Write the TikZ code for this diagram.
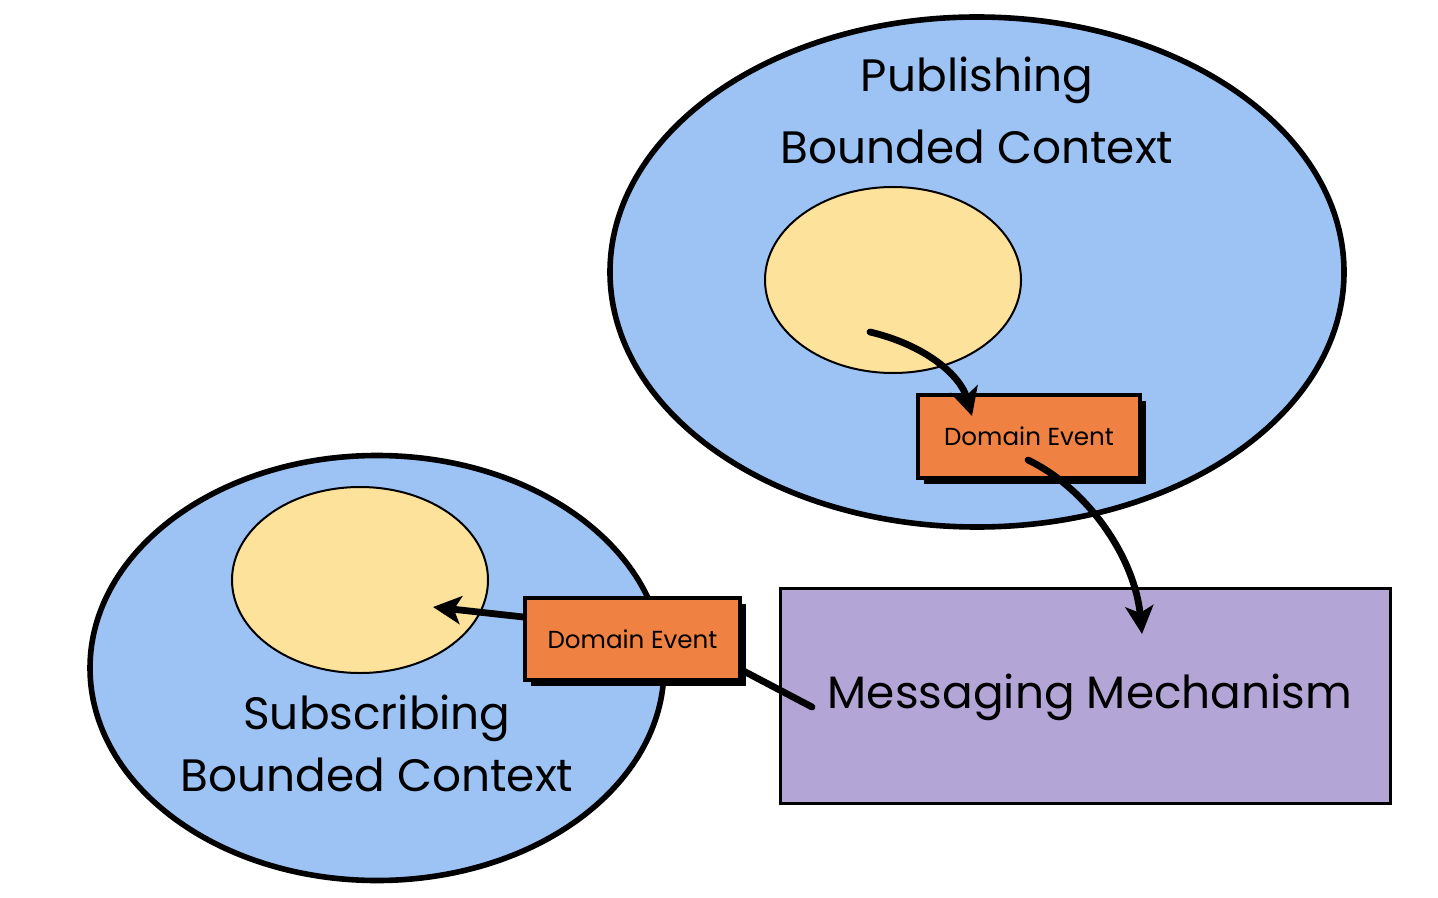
\documentclass[tikz,border=0pt]{standalone}
\usepackage{fontspec}
\setmainfont{Poppins}
\usetikzlibrary{shapes.geometric,arrows.meta,shadows}
\definecolor{ctxblue}{HTML}{9DC3F5}
\definecolor{aggyellow}{HTML}{FDE29B}
\definecolor{evorange}{HTML}{EF8142}
\definecolor{msgpurple}{HTML}{B3A6D6}
\begin{document}
\begin{tikzpicture}[x=0.5pt,y=-0.5pt,
  ctx/.style={ellipse,draw=black,line width=2.8pt,fill=ctxblue,inner sep=0pt},
  agg/.style={ellipse,draw=black,line width=1pt,fill=aggyellow,inner sep=0pt,minimum width=128pt,minimum height=93pt},
  evbox/.style={draw=black,line width=1.6pt,fill=evorange,inner sep=0pt,
     drop shadow={shadow xshift=3pt,shadow yshift=-3pt,fill=black,opacity=1},
     font=\fontsize{12.3}{14}\selectfont},
  msgbox/.style={draw=black,line width=1.5pt,fill=msgpurple,inner sep=0pt,minimum width=305pt,minimum height=107.5pt},
  bigtext/.style={font=\fontsize{22.7}{26}\selectfont,inner sep=0pt},
  flow/.style={line width=3.4pt,line cap=round,-{Stealth[length=14pt,width=14pt,inset=3.5pt]}},
  link/.style={line width=3.4pt,line cap=round}
]
\useasboundingbox (0,0) rectangle (1438,898);
% publishing context
\node[ctx,minimum width=367pt,minimum height=255pt] (pub) at (977,272) {};
\node[bigtext] (pubt1) at (977,80) {Publishing};
\node[bigtext] (pubt2) at (977,147) {Bounded Context};
\node[agg] (pagg) at (893,280) {};
\node[evbox,minimum width=111pt,minimum height=41.5pt] (ev1) at (1029,436.5) {Domain Event};
% subscribing context
\node[ctx,minimum width=287pt,minimum height=212.5pt] (sub) at (377,668) {};
\node[bigtext] (subt1) at (377,718) {Subscribing};
\node[bigtext] (subt2) at (377,775) {Bounded Context};
\node[agg] (sagg) at (360,580) {};
\node[evbox,minimum width=107.5pt,minimum height=41pt] (ev2) at (632.5,639) {Domain Event};
% messaging
\node[msgbox] (msg) at (1085,695.5) {};
\node[bigtext] (msgt) at (1090,697) {Messaging Mechanism};
% connectors
\coordinate (a1s) at (870,332);
\coordinate (a1e) at (972,416);
\coordinate (a2s) at (1028,460);
\coordinate (a2e) at (1142,634);
\coordinate (a3e) at (433,607);
\coordinate (l4s) at (812,707);
\draw[flow] (a1s) .. controls (925,345) and (960,375) .. (a1e);
\draw[flow] (a2s) .. controls (1090,490) and (1135,560) .. (a2e);
\draw[flow] (ev2.west |- 0,617) -- (a3e);
\draw[link] (l4s) -- (ev2.east |- 0,670);
\end{tikzpicture}
\end{document}
